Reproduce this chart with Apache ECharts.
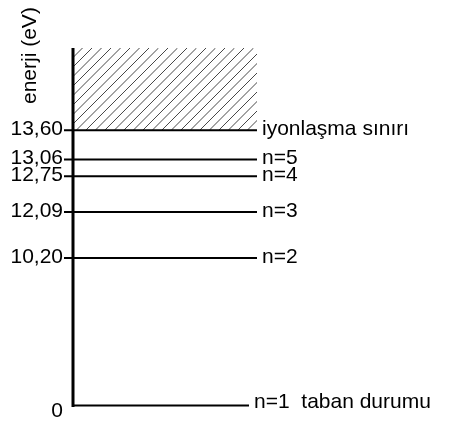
<!DOCTYPE html>
<html><head><meta charset="utf-8">
<script src="https://cdn.jsdelivr.net/npm/echarts@6.0.0/dist/echarts.min.js"></script>
<style>html,body{margin:0;padding:0;background:#fff}#c{width:449px;height:421px}</style>
</head><body><div id="c"></div>
<script>
// ---- data ----
const levelEnergies = [0, 10.20, 12.09, 12.75, 13.06, 13.60];
const energyLabels = ['0', '10,20', '12,09', '12,75', '13,06', '13,60'];
const levelNames = ['n=1  taban durumu', 'n=2', 'n=3', 'n=4', 'n=5', 'iyonlaşma sınırı'];
const axisTitle = 'enerji (eV)';
const ionizationEnergy = 13.60;
const energyMax = 15.12;
// schematic (non-linear) energy axis: compressed ranges
const axisBreaks = [
  { start: 0.3, end: 9.9, gap: 2.126 },
  { start: 10.4, end: 11.9, gap: 0.456 }
];

const FONT = '"Liberation Sans", Arial, sans-serif';
const FS = '21px ';
const chart = echarts.init(document.getElementById('c'), null, { renderer: 'canvas' });

const option = {
  animation: false,
  backgroundColor: '#fff',
  grid: { left: 73, right: 192, top: 48, bottom: 15.5 },
  xAxis: { type: 'value', min: 0, max: 1, show: false },
  yAxis: {
    type: 'value', min: 0, max: energyMax,
    breaks: axisBreaks,
    breakArea: { show: false, itemStyle: { color: 'rgba(0,0,0,0)', borderColor: 'rgba(0,0,0,0)' }, zigzagAmplitude: 0 },
    axisLine: { show: false }, axisTick: { show: false }, axisLabel: { show: false }, splitLine: { show: false }
  },
  graphic: [{
    type: 'text', x: 30, y: 104, rotation: Math.PI / 2,
    style: { text: axisTitle, font: FS + FONT, fill: '#000', textAlign: 'left', textVerticalAlign: 'middle' }
  }],
  series: [
    {
      // hatched region above ionization limit
      type: 'custom', silent: true, clip: false,
      data: [[0, ionizationEnergy, 1, energyMax]],
      renderItem: function (params, api) {
        const a = api.coord([api.value(0), api.value(3)]);
        const b = api.coord([api.value(2), api.value(1)]);
        const x0 = a[0], y0 = a[1], x1 = b[0], y1 = b[1];
        const h = y1 - y0, step = 9.5;
        const kids = [];
        for (let s = x0 - h; s <= x1 + step; s += step) {
          kids.push({ type: 'line', shape: { x1: s, y1: y1, x2: s + h, y2: y0 },
            style: { stroke: '#333', lineWidth: 0.9 } });
        }
        return { type: 'group', clipPath: { type: 'rect', shape: { x: x0, y: y0, width: x1 - x0, height: h } }, children: kids };
      }
    },
    {
      // vertical energy axis line
      type: 'custom', silent: true, clip: false,
      data: [[0, 0, energyMax]],
      renderItem: function (params, api) {
        const p0 = api.coord([0, api.value(1)]);
        const p1 = api.coord([0, api.value(2)]);
        return { type: 'line', shape: { x1: p0[0], y1: p0[1] + 1.5, x2: p1[0], y2: p1[1] },
          style: { stroke: '#000', lineWidth: 3 } };
      }
    },
    {
      // energy levels
      type: 'custom', silent: true, clip: false,
      data: levelEnergies.map((e, i) => [0, e, 1, i]),
      renderItem: function (params, api) {
        const i = api.value(3);
        const e = api.value(1);
        const p0 = api.coord([api.value(0), e]);
        const p1 = api.coord([api.value(2), e]);
        const ground = (e === 0);
        const y = p0[1];
        const tick = ground ? 0 : 9;
        const xEnd = ground ? p1[0] - 8 : p1[0];
        return { type: 'group', children: [
          { type: 'line', shape: { x1: p0[0] - tick, y1: y, x2: xEnd, y2: y },
            style: { stroke: '#000', lineWidth: 2 } },
          { type: 'text', x: p0[0] - 10, y: ground ? y + 6 : y - 1,
            style: { text: energyLabels[i], font: FS + FONT, fill: '#000', textAlign: 'right', textVerticalAlign: 'middle' } },
          { type: 'text', x: xEnd + 5, y: ground ? y - 3 : y - 1,
            style: { text: levelNames[i], font: FS + FONT, fill: '#000', textAlign: 'left', textVerticalAlign: 'middle' } }
        ] };
      }
    }
  ]
};
chart.setOption(option);
</script>
</body></html>
